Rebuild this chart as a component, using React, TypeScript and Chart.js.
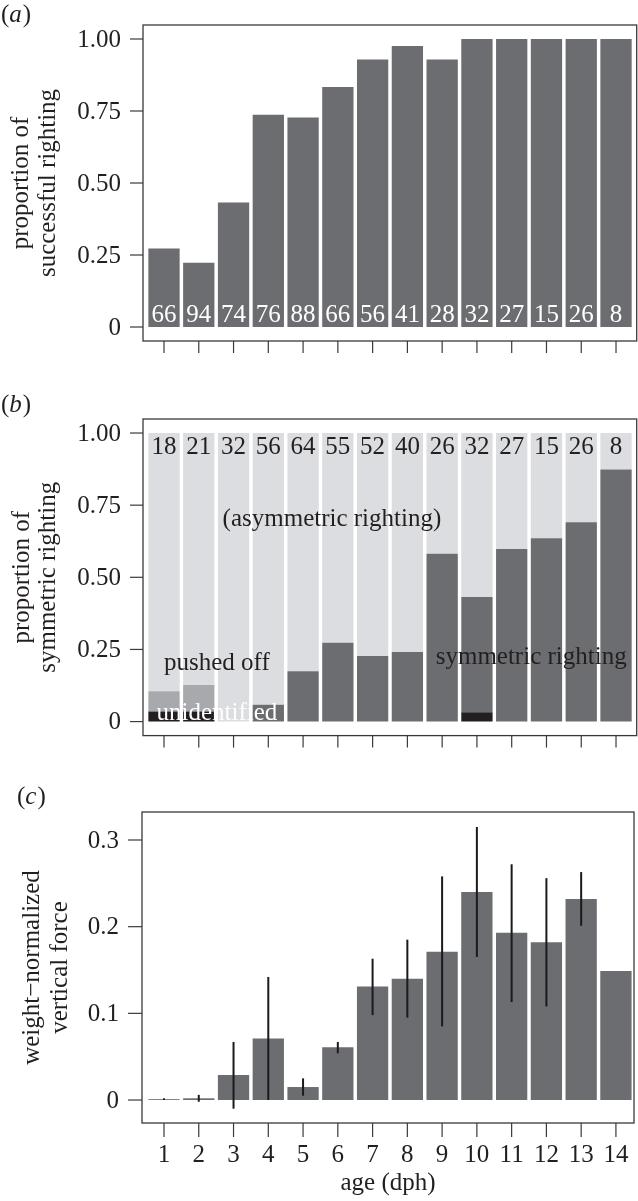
import React, { useEffect, useRef } from "react";
import { Chart, registerables } from "chart.js";
Chart.register(...registerables);

// ---------- data ----------
const ages = [1, 2, 3, 4, 5, 6, 7, 8, 9, 10, 11, 12, 13, 14];
const ageLabels = ["1", "2", "3", "4", "5", "6", "7", "8", "9", "10", "11", "12", "13", "14"];

// panel (a)
const successProp = [0.273, 0.223, 0.432, 0.737, 0.727, 0.833, 0.929, 0.976, 0.929, 1.0, 1.0, 1.0, 1.0, 1.0];
const successN = [66, 94, 74, 76, 88, 66, 56, 41, 28, 32, 27, 15, 26, 8];

// panel (b)
const unidentified = [0.035, 0.035, 0, 0, 0, 0, 0, 0, 0, 0.032, 0, 0, 0, 0];
const symmetric = [0, 0, 0, 0.058, 0.174, 0.273, 0.227, 0.241, 0.582, 0.4, 0.598, 0.635, 0.691, 0.874];
const pushedOff = [0.07, 0.092, 0, 0, 0, 0, 0, 0, 0, 0, 0, 0, 0, 0];
const asymmetric = [0.895, 0.873, 1.0, 0.942, 0.826, 0.727, 0.773, 0.759, 0.418, 0.568, 0.402, 0.365, 0.309, 0.126];
const symN = [18, 21, 32, 56, 64, 55, 52, 40, 26, 32, 27, 15, 26, 8];
const bAnnotations = [
  { text: "(asymmetric righting)", x: 5.83, y: 0.7, color: "#231f20" },
  { text: "pushed off", x: 2.52, y: 0.2, color: "#231f20" },
  { text: "unidentified", x: 2.52, y: 0.028, color: "#ffffff" },
  { text: "symmetric righting", x: 11.56, y: 0.222, color: "#231f20" },
];

// panel (c)
const force = [0.001, 0.002, 0.029, 0.071, 0.015, 0.061, 0.131, 0.14, 0.171, 0.24, 0.193, 0.182, 0.232, 0.149];
const forceLow = [0.0, -0.002, -0.01, 0.0, 0.005, 0.054, 0.098, 0.095, 0.085, 0.165, 0.113, 0.108, 0.201, null];
const forceHigh = [0.002, 0.006, 0.067, 0.142, 0.025, 0.067, 0.163, 0.185, 0.258, 0.315, 0.272, 0.256, 0.263, null];

// tick labels
const propTicks = [0, 0.25, 0.5, 0.75, 1.0];
const propTickLabels = ["0", "0.25", "0.50", "0.75", "1.00"];
const forceTicks = [0, 0.1, 0.2, 0.3];
const forceTickLabels = ["0", "0.1", "0.2", "0.3"];

// ---------- styles ----------
const FONT = '"Liberation Serif", "Times New Roman", serif';
const FS = 25;
const TEXT = "#231f20";
const DARK = "#6c6d71";
const MID = "#a8a9ad";
const LIGHT = "#dcdde0";
const BLACK = "#231f20";
const FRAME = "#3a3a3a";

type PanelOpts = {
  yTicks: number[];
  yTickLabels: string[];
  xTickLen: number;
  yTickLen: number;
  showXLabels: boolean;
  titleLines: string[];
  titleXs: number[];
  letter: string;
  letterX: number;
  letterY: number;
  extra?: (chart: any, ctx: CanvasRenderingContext2D) => void;
};

function panelPlugin(id: string, o: PanelOpts) {
  return {
    id,
    afterDraw(chart: any) {
      const ctx: CanvasRenderingContext2D = chart.ctx;
      const a = chart.chartArea;
      const xs = chart.scales.x;
      const ys = chart.scales.y;
      ctx.save();
      if (o.extra) o.extra(chart, ctx);
      // frame
      ctx.strokeStyle = FRAME;
      ctx.lineWidth = 1.3;
      ctx.strokeRect(a.left, a.top, a.right - a.left, a.bottom - a.top);
      // y ticks
      ctx.lineWidth = 1.2;
      ctx.fillStyle = TEXT;
      ctx.font = `${FS}px ${FONT}`;
      ctx.textAlign = "right";
      ctx.textBaseline = "middle";
      o.yTicks.forEach((v, i) => {
        const y = ys.getPixelForValue(v);
        ctx.beginPath();
        ctx.moveTo(a.left - o.yTickLen, y);
        ctx.lineTo(a.left, y);
        ctx.stroke();
        ctx.fillText(o.yTickLabels[i], a.left - o.yTickLen - 9, y + 1);
      });
      // x ticks
      ctx.textAlign = "center";
      ctx.textBaseline = "alphabetic";
      ages.forEach((v, i) => {
        const x = xs.getPixelForValue(v);
        ctx.beginPath();
        ctx.moveTo(x, a.bottom);
        ctx.lineTo(x, a.bottom + o.xTickLen);
        ctx.stroke();
        if (o.showXLabels) ctx.fillText(ageLabels[i], x, a.bottom + 39);
      });
      if (o.showXLabels) {
        ctx.fillText("age (dph)", (a.left + a.right) / 2, a.bottom + 67);
      }
      // y title
      const cy = (a.top + a.bottom) / 2;
      o.titleLines.forEach((t, i) => {
        ctx.save();
        ctx.translate(o.titleXs[i], cy);
        ctx.rotate(-Math.PI / 2);
        ctx.textAlign = "center";
        ctx.textBaseline = "middle";
        ctx.fillText(t, 0, 0);
        ctx.restore();
      });
      // panel letter
      ctx.textAlign = "left";
      ctx.textBaseline = "middle";
      ctx.font = `${FS}px ${FONT}`;
      let lx = o.letterX;
      ctx.fillText("(", lx, o.letterY);
      lx += ctx.measureText("(").width;
      ctx.font = `italic ${FS}px ${FONT}`;
      ctx.fillText(o.letter, lx, o.letterY);
      lx += ctx.measureText(o.letter).width + 1;
      ctx.font = `${FS}px ${FONT}`;
      ctx.fillText(")", lx, o.letterY);
      ctx.restore();
    },
  };
}

function baseOptions(pad: any, xmin: number, xmax: number, ymin: number, ymax: number, stacked: boolean) {
  return {
    responsive: false,
    animation: false,
    devicePixelRatio: 1,
    layout: { padding: pad },
    plugins: { legend: { display: false }, tooltip: { enabled: false } },
    scales: {
      x: { type: "linear", min: xmin, max: xmax, display: false, stacked, offset: false, grid: { offset: false } },
      y: { type: "linear", min: ymin, max: ymax, display: false, stacked },
    },
  };
}

function barDataset(values: (number | null)[], color: string) {
  return {
    data: ages.map((x, i) => ({ x, y: values[i] })),
    backgroundColor: color,
    borderWidth: 0,
    barPercentage: 0.9,
    categoryPercentage: 1.0,
  };
}

export default function App() {
  const refA = useRef<HTMLCanvasElement>(null);
  const refB = useRef<HTMLCanvasElement>(null);
  const refC = useRef<HTMLCanvasElement>(null);

  useEffect(() => {
    const charts: Chart[] = [];

    // ----- panel (a)
    charts.push(
      new Chart(refA.current!, {
        type: "bar",
        data: { datasets: [barDataset(successProp, DARK)] } as any,
        options: baseOptions({ left: 143, right: 1.3, top: 25, bottom: 39 }, 0.396, 14.595, -0.0486, 1.0486, false) as any,
        plugins: [
          panelPlugin("pa", {
            yTicks: propTicks,
            yTickLabels: propTickLabels,
            xTickLen: 12,
            yTickLen: 13,
            showXLabels: false,
            titleLines: ["proportion of", "successful righting"],
            titleXs: [21, 48],
            letter: "a",
            letterX: 1,
            letterY: 15,
            extra: (chart, ctx) => {
              const xs = chart.scales.x;
              const ys = chart.scales.y;
              ctx.fillStyle = "#ffffff";
              ctx.font = `${FS}px ${FONT}`;
              ctx.textAlign = "center";
              ctx.textBaseline = "alphabetic";
              successN.forEach((n, i) => {
                ctx.fillText(String(n), xs.getPixelForValue(ages[i]), ys.getPixelForValue(0) - 5);
              });
            },
          }),
        ],
      })
    );

    // ----- panel (b)
    charts.push(
      new Chart(refB.current!, {
        type: "bar",
        data: {
          datasets: [
            barDataset(unidentified, BLACK),
            barDataset(symmetric, DARK),
            barDataset(pushedOff, MID),
            barDataset(asymmetric, LIGHT),
          ],
        } as any,
        options: baseOptions({ left: 143, right: 1.3, top: 39, bottom: 24.4 }, 0.396, 14.595, -0.0486, 1.0486, true) as any,
        plugins: [
          panelPlugin("pb", {
            yTicks: propTicks,
            yTickLabels: propTickLabels,
            xTickLen: 12,
            yTickLen: 13,
            showXLabels: false,
            titleLines: ["proportion of", "symmetric righting"],
            titleXs: [22, 48],
            letter: "b",
            letterX: 1,
            letterY: 25,
            extra: (chart, ctx) => {
              const xs = chart.scales.x;
              const ys = chart.scales.y;
              ctx.font = `${FS}px ${FONT}`;
              ctx.textAlign = "center";
              ctx.textBaseline = "alphabetic";
              ctx.fillStyle = TEXT;
              symN.forEach((n, i) => {
                ctx.fillText(String(n), xs.getPixelForValue(ages[i]), ys.getPixelForValue(1) + 21);
              });
              ctx.textBaseline = "middle";
              bAnnotations.forEach((an) => {
                ctx.fillStyle = an.color;
                ctx.fillText(an.text, xs.getPixelForValue(an.x), ys.getPixelForValue(an.y));
              });
            },
          }),
        ],
      })
    );

    // ----- panel (c)
    charts.push(
      new Chart(refC.current!, {
        type: "bar",
        data: { datasets: [barDataset(force, DARK)] } as any,
        options: baseOptions({ left: 142, right: 4, top: 52, bottom: 78 }, 0.367, 14.52, -0.0265, 0.3323, false) as any,
        plugins: [
          panelPlugin("pc", {
            yTicks: forceTicks,
            yTickLabels: forceTickLabels,
            xTickLen: 14,
            yTickLen: 14,
            showXLabels: true,
            titleLines: ["weight\u2212normalized", "vertical force"],
            titleXs: [32, 60],
            letter: "c",
            letterX: 17,
            letterY: 37,
            extra: (chart, ctx) => {
              const xs = chart.scales.x;
              const ys = chart.scales.y;
              ctx.strokeStyle = "#1a1a1a";
              ctx.lineWidth = 2;
              ages.forEach((age, i) => {
                const lo = forceLow[i];
                const hi = forceHigh[i];
                if (lo === null || hi === null) return;
                const x = xs.getPixelForValue(age);
                ctx.beginPath();
                ctx.moveTo(x, ys.getPixelForValue(lo));
                ctx.lineTo(x, ys.getPixelForValue(hi));
                ctx.stroke();
              });
            },
          }),
        ],
      })
    );

    return () => charts.forEach((c) => c.destroy());
  }, []);

  return (
    <div style={{ position: "absolute", left: 0, top: 0, width: 638, height: 1201, background: "#ffffff" }}>
      <canvas ref={refA} width={638} height={380} style={{ position: "absolute", left: 0, top: 0 }} />
      <canvas ref={refB} width={638} height={380} style={{ position: "absolute", left: 0, top: 380 }} />
      <canvas ref={refC} width={638} height={441} style={{ position: "absolute", left: 0, top: 760 }} />
    </div>
  );
}
